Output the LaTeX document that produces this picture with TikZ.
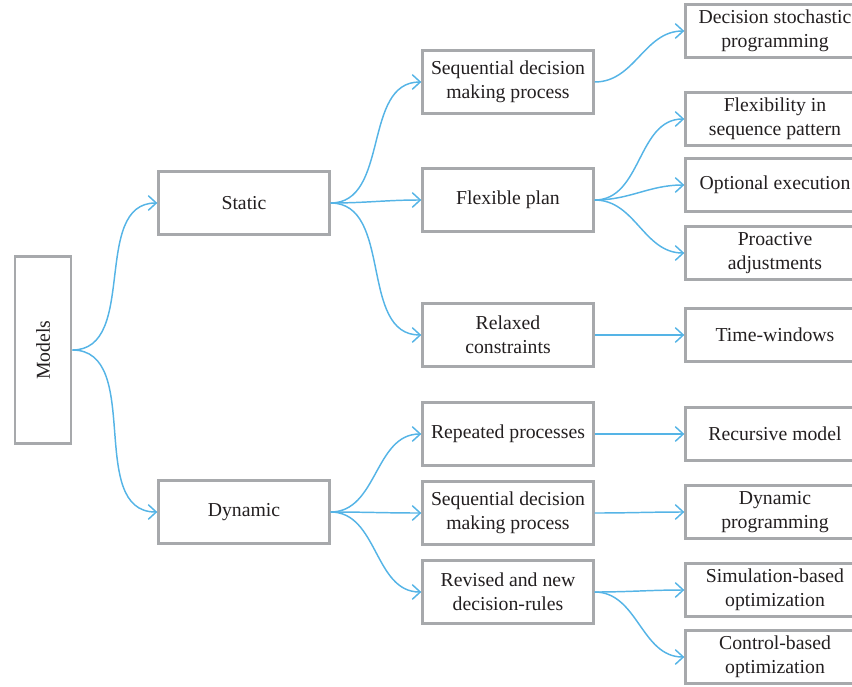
\documentclass[tikz,border=0pt]{standalone}
\usepackage{fontspec}
\setmainfont{Liberation Serif}
\usetikzlibrary{arrows.meta,positioning}
\definecolor{boxgray}{HTML}{A7A9AC}
\definecolor{linkblue}{HTML}{55B4E6}
\definecolor{inkgray}{HTML}{231F20}

\begin{document}
\begin{tikzpicture}[x=0.75pt, y=-0.75pt,
        model/.style={draw=boxgray, line width=2pt, fill=white, text=inkgray, align=center,
            font=\fontsize{14.8}{18}\selectfont, inner sep=1pt},
        mid/.style={model, minimum width=128pt, minimum height=47pt},
        leaf/.style={model, minimum width=134pt, minimum height=40pt},
        link/.style={draw=linkblue, line width=1.1pt, -{Straight Barb[length=6pt, width=11pt]}},
        >=Stealth]

        \path[use as bounding box, clip] (0,0) rectangle (852,686);

        \node[model, rotate=90, minimum width=140pt, minimum height=42pt] (models) at (43,350) {Models};

        \node[mid] (static) at (244,203) {Static};
        \node[mid] (dynamic) at (244,512) {Dynamic};

        % static branch
        \node[mid] (seqstat) at (508,82) {Sequential decision\\making process};
        \node[mid] (flexplan) at (508,200) {Flexible plan};
        \node[mid] (relaxed) at (508,335) {Relaxed\\constraints};

        % dynamic branch
        \node[mid] (repeated) at (508,434) {Repeated processes};
        \node[mid] (seqdyn) at (508,513) {Sequential decision\\making process};
        \node[mid] (revised) at (508,592) {Revised and new\\decision-rules};

        % leaves
        \node[leaf] (stochastic) at (775,31) {Decision stochastic\\programming};
        \node[leaf] (flexseq) at (775,119) {Flexibility in\\sequence pattern};
        \node[leaf] (optional) at (775,185) {Optional execution};
        \node[leaf] (proactive) at (775,253) {Proactive\\adjustments};
        \node[leaf] (timewin) at (775,335) {Time-windows};
        \node[leaf] (recursive) at (775,434) {Recursive model};
        \node[leaf] (dynprog) at (775,512) {Dynamic\\programming};
        \node[leaf] (simopt) at (775,590) {Simulation-based\\optimization};
        \node[leaf] (ctrlopt) at (775,657) {Control-based\\optimization};

        \draw[link] (models.south) to[out=0, in=180] (static.west);
        \draw[link] (models.south) to[out=0, in=180] (dynamic.west);

        \draw[link] (static.east) to[out=0, in=180] (seqstat.west);
        \draw[link] (static.east) to[out=0, in=180] (flexplan.west);
        \draw[link] (static.east) to[out=0, in=180] (relaxed.west);

        \draw[link] (dynamic.east) to[out=0, in=180] (repeated.west);
        \draw[link] (dynamic.east) to[out=0, in=180] (seqdyn.west);
        \draw[link] (dynamic.east) to[out=0, in=180] (revised.west);

        \draw[link] (seqstat.east) to[out=0, in=180] (stochastic.west);
        \draw[link] (flexplan.east) to[out=0, in=180] (flexseq.west);
        \draw[link] (flexplan.east) to[out=0, in=180] (optional.west);
        \draw[link] (flexplan.east) to[out=0, in=180] (proactive.west);
        \draw[link] (relaxed.east) to[out=0, in=180] (timewin.west);
        \draw[link] (repeated.east) to[out=0, in=180] (recursive.west);
        \draw[link] (seqdyn.east) to[out=0, in=180] (dynprog.west);
        \draw[link] (revised.east) to[out=0, in=180] (simopt.west);
        \draw[link] (revised.east) to[out=0, in=180] (ctrlopt.west);

    \end{tikzpicture}
\end{document}
